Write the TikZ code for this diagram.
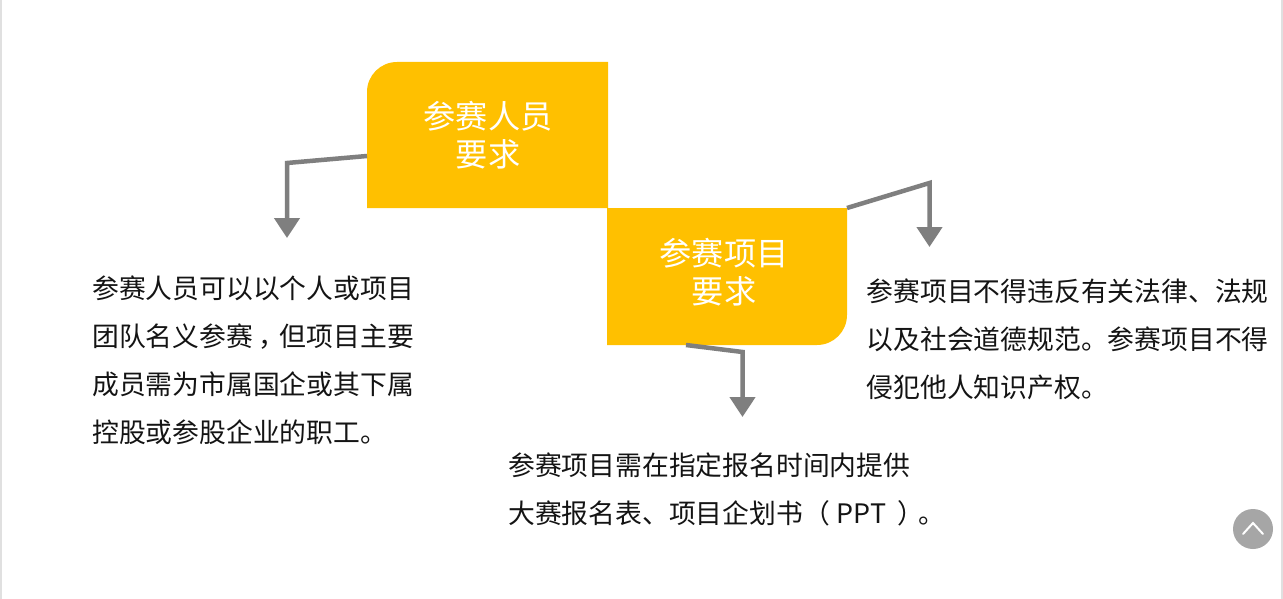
\documentclass[tikz,border=0pt]{standalone}
\usepackage{fontspec}
\setmainfont{Noto Sans CJK SC}
\usepackage{tikz}
\usetikzlibrary{positioning, arrows.meta, calc}
\definecolor{boxfill}{HTML}{FFC000}
\definecolor{flowgray}{HTML}{7F7F7F}
\begin{document}
\begin{tikzpicture}[
  x=1pt, y=-1pt,
  box/.style={minimum width=#1, inner sep=0pt, outer sep=0pt},
  boxtext/.style={text=white, align=center, inner sep=0pt, font=\fontsize{32.2}{38}\selectfont},
  para/.style={anchor=west, align=left, inner sep=0pt, text=black!92, font=\fontsize{26.8}{48}\selectfont},
  flow/.style={draw=flowgray, line width=4.5pt, -{Triangle[length=20pt, width=25pt]}},
  edge/.style={draw=black!12, line width=1.5pt}
]
\useasboundingbox (0,0) rectangle (1283,599);
\fill[white] (0,0) rectangle (1283,599);
% page edges
\coordinate (topleft) at (1,0);
\coordinate (botleft) at (1,599);
\coordinate (topright) at (1282,0);
\coordinate (botright) at (1282,599);
\draw[edge] (topleft) -- (botleft);
\draw[edge] (topright) -- (botright);
% the two stepped boxes
\node[box=241pt, minimum height=146pt] (crew) at (487.5,135) {};
\node[box=240pt, minimum height=137pt] (project) at (727,276.5) {};
\fill[boxfill] (crew.south west) [rounded corners=30pt] -- (crew.north west) [sharp corners] -- (crew.north east) -- (crew.south east) -- cycle;
\fill[boxfill] (project.north west) -- (project.north east) [rounded corners=30pt] -- (project.south east) [sharp corners] -- (project.south west) -- cycle;
\node[boxtext] (crewtext) at (488,135) {参赛人员\\要求};
\node[boxtext] (projecttext) at (724,272) {参赛项目\\要求};
% paragraphs
\node[para] (crewnote) at (92,360) {参赛人员可以以个人或项目\\团队名义参赛\kern6pt，\kern-6pt 但项目主要\\成员需为市属国企或其下属\\控股或参股企业的职工。};
\node[para] (lawnote) at (866.5,339) {参赛项目不得违反有关法律、法规\\以及社会道德规范。参赛项目不得\\侵犯他人知识产权。};
\node[para] (filenote) at (508,489) {参赛项目需在指定报名时间内提供\\大赛报名表、项目企划书（\kern1pt~PPT~\kern5pt）\kern-5pt。};
% arrows out of the boxes
\coordinate (crewbend) at (287,163);
\coordinate (crewend) at (287,238);
\draw[flow] ([yshift=-21pt]crew.west) -- (crewbend) -- (crewend);
\coordinate (lawbend) at (929.5,183);
\coordinate (lawend) at (929.5,247);
\draw[flow] (project.north east) -- (lawbend) -- (lawend);
\coordinate (filebend) at (742.5,352);
\coordinate (fileend) at (742.5,417);
\draw[flow] ([xshift=-41pt]project.south) -- (filebend) -- (fileend);
% back to top button
\node[circle, fill=black!35, minimum size=40pt, inner sep=0pt] (totop) at (1253,529) {};
\draw[white, line width=2pt, line cap=round] ([shift={(-10pt,-5pt)}]totop.center) -- ([yshift=6pt]totop.center) -- ([shift={(10pt,-5pt)}]totop.center);
\end{tikzpicture}
\end{document}
